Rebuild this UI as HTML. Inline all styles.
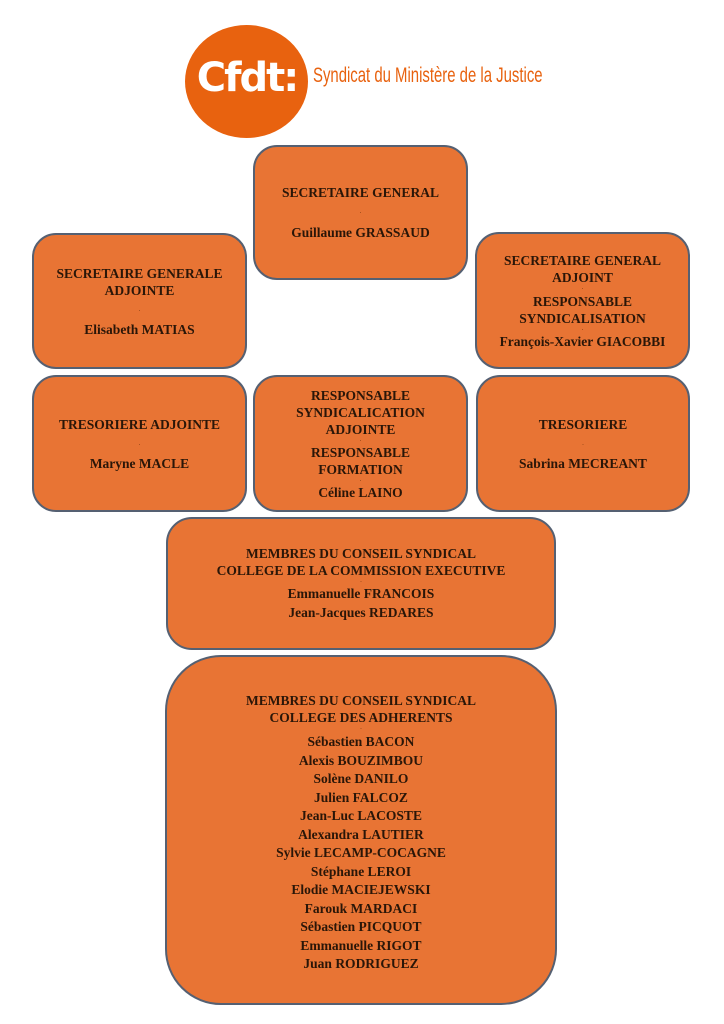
<!DOCTYPE html>
<html><head><meta charset="utf-8"><style>
body{margin:0;width:724px;height:1024px;background:#fff;position:relative;overflow:hidden}
.b{position:absolute;box-sizing:border-box;background:#E87434;border:2px solid #556072;border-radius:24px;display:flex;flex-direction:column;align-items:center;justify-content:center;text-align:center;font-family:"Liberation Serif",serif;font-weight:bold;font-size:13.5px;color:#2a1608;letter-spacing:0px}
.l{line-height:17px;white-space:nowrap}
.d{height:6px;line-height:6px;font-size:5px;color:#7a3a10}
.d2{height:23px;line-height:23px;font-size:5px;color:#7a3a10}
.m{line-height:18.5px;white-space:nowrap}
</style></head><body>
<div style="position:absolute;left:185px;top:25px;width:123px;height:113px;border-radius:50%;background:#E8620F"></div>
<div style="position:absolute;left:188px;top:53px;width:118px;text-align:center;font-family:'DejaVu Sans',sans-serif;font-weight:bold;font-size:40px;color:#fff;letter-spacing:-2px;line-height:50px">Cfdt:</div>
<div style="position:absolute;left:313px;top:63px;font-family:'Liberation Sans',sans-serif;font-size:21px;color:#E8620F;line-height:26px;transform:scaleX(0.71);transform-origin:left;white-space:nowrap">Syndicat du Ministère de la Justice</div>

<div class="b" style="left:253px;top:145px;width:215px;height:135px"><div class="l">SECRETAIRE GENERAL</div><div class="d2">.</div><div class="l">Guillaume GRASSAUD</div></div>

<div class="b" style="left:32px;top:233px;width:215px;height:136px"><div class="l">SECRETAIRE GENERALE</div><div class="l">ADJOINTE</div><div class="d2" style="height:22px">.</div><div class="l">Elisabeth MATIAS</div></div>

<div class="b" style="left:475px;top:232px;width:215px;height:137px"><div class="l">SECRETAIRE GENERAL</div><div class="l">ADJOINT</div><div class="d" style="height:7px">.</div><div class="l">RESPONSABLE</div><div class="l">SYNDICALISATION</div><div class="d">.</div><div class="l">François-Xavier GIACOBBI</div></div>

<div class="b" style="left:32px;top:375px;width:215px;height:137px"><div class="l">TRESORIERE ADJOINTE</div><div class="d2" style="height:22px">.</div><div class="l">Maryne MACLE</div></div>

<div class="b" style="left:253px;top:375px;width:215px;height:137px"><div class="l">RESPONSABLE</div><div class="l">SYNDICALICATION</div><div class="l">ADJOINTE</div><div class="d">.</div><div class="l">RESPONSABLE</div><div class="l">FORMATION</div><div class="d">.</div><div class="l">Céline LAINO</div></div>

<div class="b" style="left:476px;top:375px;width:214px;height:137px"><div class="l">TRESORIERE</div><div class="d2" style="height:22px">.</div><div class="l">Sabrina MECREANT</div></div>

<div class="b" style="left:166px;top:517px;width:390px;height:133px;border-radius:26px"><div class="l">MEMBRES DU CONSEIL SYNDICAL</div><div class="l">COLLEGE DE LA COMMISSION EXECUTIVE</div><div class="d">.</div><div class="m">Emmanuelle FRANCOIS</div><div class="m">Jean-Jacques REDARES</div></div>

<div class="b" style="left:165px;top:655px;width:392px;height:350px;border-radius:56px;justify-content:flex-start;padding-top:35px"><div class="l">MEMBRES DU CONSEIL SYNDICAL</div><div class="l">COLLEGE DES ADHERENTS</div><div class="d" style="height:7px">.</div>
<div class="m">Sébastien BACON</div><div class="m">Alexis BOUZIMBOU</div><div class="m">Solène DANILO</div><div class="m">Julien FALCOZ</div><div class="m">Jean-Luc LACOSTE</div><div class="m">Alexandra LAUTIER</div><div class="m">Sylvie LECAMP-COCAGNE</div><div class="m">Stéphane LEROI</div><div class="m">Elodie MACIEJEWSKI</div><div class="m">Farouk MARDACI</div><div class="m">Sébastien PICQUOT</div><div class="m">Emmanuelle RIGOT</div><div class="m">Juan RODRIGUEZ</div></div>
</body></html>
